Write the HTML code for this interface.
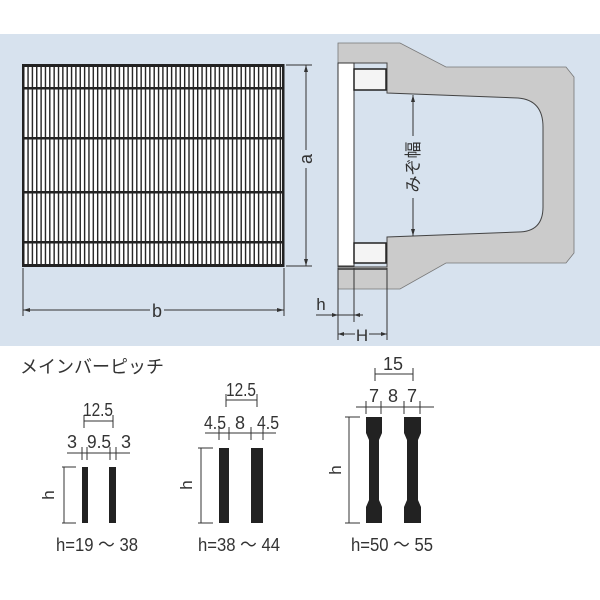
<!DOCTYPE html>
<html><head><meta charset="utf-8"><style>
html,body{margin:0;padding:0;background:#fff;}
svg{display:block;}
text{font-family:"Liberation Sans","Noto Sans CJK JP",sans-serif;fill:#333;}
</style></head><body>
<svg width="600" height="600" viewBox="0 0 600 600" xmlns="http://www.w3.org/2000/svg">
<defs>
<pattern id="vb" x="23" y="0" width="4.35" height="10" patternUnits="userSpaceOnUse">
<rect x="0" y="0" width="1.4" height="10" fill="#222"/>
</pattern>
</defs>
<rect x="0" y="34" width="600" height="312" fill="#d7e2ee"/>
<!-- grating -->
<rect x="23" y="65" width="261" height="201" fill="#fff"/>
<rect x="23" y="65" width="261" height="201" fill="url(#vb)"/>
<g fill="#222">
<rect x="23" y="64" width="261" height="3"/>
<rect x="23" y="87" width="261" height="2.5"/>
<rect x="23" y="137" width="261" height="2.5"/>
<rect x="23" y="191" width="261" height="2.5"/>
<rect x="23" y="241" width="261" height="2.5"/>
<rect x="23" y="264" width="261" height="3"/>
<rect x="22" y="64" width="2.5" height="203"/>
<rect x="282" y="64" width="2.5" height="203"/>
</g>
<!-- dims a, b -->
<g stroke="#333" stroke-width="1" fill="#333">
<line x1="286" y1="65" x2="312" y2="65"/><line x1="286" y1="266" x2="312" y2="266"/>
<line x1="306" y1="65" x2="306" y2="150"/><line x1="306" y1="168" x2="306" y2="266"/>
<path d="M306 65 l-2 7 h4z M306 266 l-2 -7 h4z" stroke="none"/>
<line x1="23" y1="268" x2="23" y2="316"/><line x1="284" y1="268" x2="284" y2="316"/>
<line x1="23" y1="310" x2="150" y2="310"/><line x1="164" y1="310" x2="284" y2="310"/>
<path d="M23 310 l7 -2 v4z M284 310 l-7 -2 v4z" stroke="none"/>
</g>
<text x="306" y="159" font-size="18" text-anchor="middle" transform="rotate(-90 306 159)" dy="6">a</text>
<text x="157" y="317" font-size="18" text-anchor="middle">b</text>
<!-- U-shape -->
<path d="M338 43 L400 43 L446 67 L566 67 L574 77 L574 253 L566 263 L446 263 L400 289 L338 289 Z" fill="#cbcbcb" stroke="#777" stroke-width="0.8"/>
<path d="M338 63 L387 63 L387 93 L518 98 Q543 100 543 127 L543 207 Q543 232 518 232 L387 237 L387 267 L338 267 Z" fill="#d7e2ee" stroke="#444" stroke-width="1"/>
<rect x="338" y="63" width="16" height="203" fill="#fff" stroke="#333" stroke-width="1"/>
<rect x="354" y="69" width="32" height="21" fill="#f4f4f4" stroke="#222" stroke-width="1.5"/>
<rect x="354" y="243" width="32" height="20" fill="#f4f4f4" stroke="#222" stroke-width="1.5"/>
<line x1="338" y1="269" x2="387" y2="269" stroke="#333" stroke-width="1.5"/>
<!-- みぞ幅 -->
<g stroke="#333" stroke-width="1" fill="#333">
<line x1="413" y1="95" x2="413" y2="136"/><line x1="413" y1="198" x2="413" y2="236"/>
<path d="M413 95 l-2 7 h4z M413 236 l-2 -7 h4z" stroke="none"/>
</g>
<text x="413" y="167" font-size="17" text-anchor="middle" dy="6" transform="rotate(-90 413 167)">みぞ幅</text>
<!-- h, H dims -->
<g stroke="#333" stroke-width="1" fill="#333">
<line x1="338" y1="268" x2="338" y2="340"/><line x1="354" y1="268" x2="354" y2="322"/><line x1="387" y1="268" x2="387" y2="340"/>
<line x1="316" y1="315" x2="363" y2="315"/>
<path d="M338 315 l-6 -2 v4z M354 315 l6 -2 v4z" stroke="none"/>
<line x1="338" y1="334" x2="355" y2="334"/><line x1="369" y1="334" x2="387" y2="334"/>
<path d="M338 334 l6 -2 v4z M387 334 l-6 -2 v4z" stroke="none"/>
</g>
<text x="321" y="310" font-size="17" text-anchor="middle">h</text>
<text x="362" y="341" font-size="17" text-anchor="middle">H</text>
<!-- bottom -->
<text x="20" y="373" font-size="18" fill="#444">メインバーピッチ</text>
<g fill="#222">
<rect x="82" y="467" width="6" height="56"/><rect x="109" y="467" width="7" height="56"/>
<rect x="219" y="448" width="10" height="75"/><rect x="251" y="448" width="12" height="75"/>
<path d="M366 417 H382 V433 L379 440 V500 L382 507 V523 H366 V507 L369 500 V440 L366 433 Z"/>
<path d="M404 417 H421 V433 L418 440 V500 L421 507 V523 H404 V507 L407 500 V440 L404 433 Z"/>
</g>
<g stroke="#333" stroke-width="1" fill="none">
<path d="M62 467 H76 M62 523 H76 M64 467 V523"/>
<path d="M67 453 H130 M82 447 V460 M87 447 V460 M110 447 V460 M116 447 V460"/>
<path d="M84 421 H113 M84 415 V428 M113 415 V428"/>
<path d="M198 448 H213 M198 523 H213 M201 448 V523"/>
<path d="M205 433 H276 M219 427 V440 M229 427 V440 M251 427 V440 M263 427 V440"/>
<path d="M226 400 H257 M226 394 V407 M257 394 V407"/>
<path d="M345 417 H360 M345 523 H360 M349 417 V523"/>
<path d="M356 407 H434 M366 401 V414 M381 401 V414 M404 401 V414 M420 401 V414"/>
<path d="M375 374 H413 M375 368 V381 M413 368 V381"/>
</g>
<text x="48" y="495" font-size="17" text-anchor="middle" dy="6" transform="rotate(-90 48 495)">h</text>
<text x="186" y="485" font-size="17" text-anchor="middle" dy="6" transform="rotate(-90 186 485)">h</text>
<text x="335" y="470" font-size="17" text-anchor="middle" dy="6" transform="rotate(-90 335 470)">h</text>
<g font-size="18" text-anchor="middle">
<text x="72" y="448">3</text><text x="99" y="448" textLength="24" lengthAdjust="spacingAndGlyphs">9.5</text><text x="126" y="448">3</text>
<text x="98" y="416" textLength="30" lengthAdjust="spacingAndGlyphs">12.5</text>
<text x="215" y="429" textLength="22" lengthAdjust="spacingAndGlyphs">4.5</text><text x="240" y="429">8</text><text x="268" y="429" textLength="22" lengthAdjust="spacingAndGlyphs">4.5</text>
<text x="241" y="396" textLength="30" lengthAdjust="spacingAndGlyphs">12.5</text>
<text x="374" y="402">7</text><text x="393" y="402">8</text><text x="412" y="402">7</text>
<text x="393" y="370">15</text>
<text x="97" y="551" textLength="82" lengthAdjust="spacingAndGlyphs">h=19 ～ 38</text>
<text x="239" y="551" textLength="82" lengthAdjust="spacingAndGlyphs">h=38 ～ 44</text>
<text x="392" y="551" textLength="82" lengthAdjust="spacingAndGlyphs">h=50 ～ 55</text>
</g>
</svg>
</body></html>
